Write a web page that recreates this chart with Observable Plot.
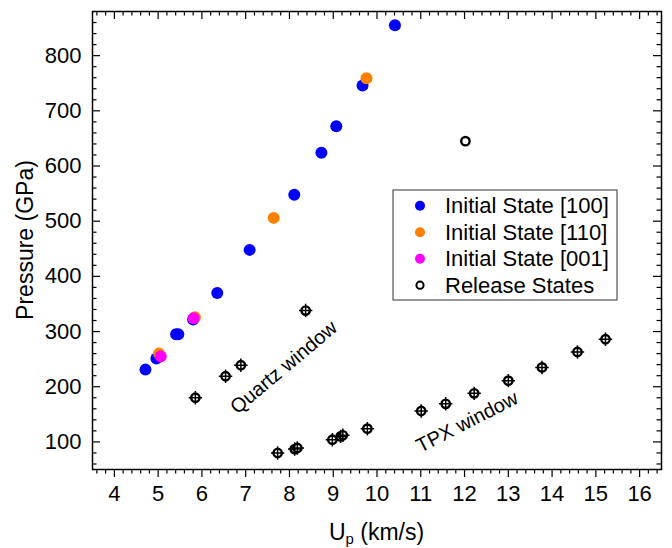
<!DOCTYPE html>
<html><head><meta charset="utf-8">
<script src="https://cdn.jsdelivr.net/npm/d3@7"></script>
<script src="https://cdn.jsdelivr.net/npm/@observablehq/plot@0.6"></script>
<style>
body{margin:0;background:#fff;}
#chart svg{display:block;}
</style></head><body><div id="chart"></div>
<script>
// ---- data ----
const up100 = [4.71, 4.96, 5.41, 5.46, 5.80, 6.35, 7.09, 8.11, 8.73, 9.07, 9.67, 10.41];
const p100  = [231, 251, 295, 295, 322, 370, 448, 548, 624, 672, 746, 855];
const up110 = [5.02, 5.84, 7.64, 9.76];
const p110  = [260, 326, 506, 759];
const up001 = [5.06, 5.81];
const p001  = [255, 324];
const upRel = [5.85, 6.54, 6.89, 8.37, 7.73, 8.12, 8.18, 8.98, 9.17, 9.22, 9.78, 11.01, 11.57, 12.22, 13.00, 13.77, 14.58, 15.22, 12.02];
const pRel  = [180, 219, 239, 338, 80, 87, 89, 104, 110, 112, 124, 156, 169, 188, 211, 235, 263, 286, 645];
const relBars = [1, 1, 1, 1, 1, 1, 1, 1, 1, 1, 1, 1, 1, 1, 1, 1, 1, 1, 0];

const seriesNames = ["Initial State [100]", "Initial State [110]", "Initial State [001]", "Release States"];
const seriesColors = ["#0000ff", "#ff7f00", "#ff00ff", "black"];

const windowLabels = ["Quartz window", "TPX window"];
const windowUp = [7.87, 12.06];
const windowP = [235, 136];
const windowAngle = [-40, -27];

const xTicks = [4, 5, 6, 7, 8, 9, 10, 11, 12, 13, 14, 15, 16];
const xTickLabels = ["4", "5", "6", "7", "8", "9", "10", "11", "12", "13", "14", "15", "16"];
const yTicks = [100, 200, 300, 400, 500, 600, 700, 800];
const yTickLabels = ["100", "200", "300", "400", "500", "600", "700", "800"];
const xDomain = [3.5, 16.5];
const yDomain = [50, 880];
const xLabelMain = "U", xLabelSub = "p", xLabelRest = " (km/s)";
const yLabel = "Pressure (GPa)";

// ---- build tables ----
const d100 = up100.map((u, i) => ({u, p: p100[i]}));
const d110 = up110.map((u, i) => ({u, p: p110[i]}));
const d001 = up001.map((u, i) => ({u, p: p001[i]}));
const dRel = upRel.map((u, i) => ({u, p: pRel[i], bars: relBars[i]}));
const dWin = windowLabels.map((t, i) => ({t, u: windowUp[i], p: windowP[i], a: windowAngle[i]}));
const xMinor = d3.range(36, 165, 2).map(v => v / 10).filter(v => !xTicks.includes(v));
const yMinor = d3.range(60, 861, 20).filter(v => !yTicks.includes(v));

const W = 672, H = 548, mL = 92, mR = 11, mT = 11, mB = 79;
const plotW = W - mL - mR, plotH = H - mT - mB;
const maj = 8, mn = 4.5;
const FONT = "'Liberation Sans', Arial, Helvetica, sans-serif";
const tk = {stroke: "black", strokeWidth: 1.2};

const chart = Plot.plot({
  width: W, height: H,
  marginLeft: mL, marginRight: mR, marginTop: mT, marginBottom: mB,
  x: {domain: xDomain, axis: null},
  y: {domain: yDomain, axis: null},
  style: {fontFamily: FONT, color: "black", background: "white", overflow: "visible"},
  marks: [
    // tick marks: bottom outward, others inward
    Plot.tickX(xTicks, {x: d => d, insetTop: plotH, insetBottom: -maj, ...tk}),
    Plot.tickX(xMinor, {x: d => d, insetTop: plotH, insetBottom: -mn, ...tk}),
    Plot.tickX(xTicks, {x: d => d, insetBottom: plotH - maj, ...tk}),
    Plot.tickX(xMinor, {x: d => d, insetBottom: plotH - mn, ...tk}),
    Plot.tickY(yTicks, {y: d => d, insetRight: plotW - maj, ...tk}),
    Plot.tickY(yMinor, {y: d => d, insetRight: plotW - mn, ...tk}),
    Plot.tickY(yTicks, {y: d => d, insetLeft: plotW - maj, ...tk}),
    Plot.tickY(yMinor, {y: d => d, insetLeft: plotW - mn, ...tk}),
    Plot.axisX({ticks: xTicks, tickFormat: (d, i) => xTickLabels[i], tickSize: 0, tickPadding: 16, fontSize: 22, label: null}),
    Plot.axisY({ticks: yTicks, tickFormat: (d, i) => yTickLabels[i], tickSize: 0, tickPadding: 11, fontSize: 22, label: null}),
    Plot.frame({stroke: "black", strokeWidth: 1.5}),
    // data
    Plot.dot(d100, {x: "u", y: "p", r: 6, fill: seriesColors[0]}),
    Plot.dot(d110, {x: "u", y: "p", r: 6, fill: seriesColors[1]}),
    Plot.dot(d001, {x: "u", y: "p", r: 6, fill: seriesColors[2]}),
    Plot.dot(dRel, {x: "u", y: "p", r: 4.2, fill: "white", stroke: "black", strokeWidth: 2.4}),
    Plot.dot(dRel.filter(d => d.bars), {x: "u", y: "p", r: 4.4, symbol: "plus", fill: "none", stroke: "black", strokeWidth: 1.5}),
    Plot.text(dWin, {x: "u", y: "p", text: "t", rotate: "a", fontSize: 20, fill: "black"})
  ]
});

const svg = d3.select(chart);
// axis titles
const xl = svg.append("text")
  .attr("x", mL + plotW / 2).attr("y", 540)
  .attr("text-anchor", "middle")
  .style("font-family", FONT).style("font-size", "23px").attr("fill", "black");
xl.append("tspan").text(xLabelMain);
xl.append("tspan").attr("dy", 4).style("font-size", "15px").text(xLabelSub);
xl.append("tspan").attr("dy", -4).text(xLabelRest);

svg.append("text")
  .attr("transform", `translate(33,${mT + plotH / 2}) rotate(-90)`)
  .attr("text-anchor", "middle")
  .style("font-family", FONT).style("font-size", "23px").attr("fill", "black")
  .text(yLabel);

// legend
const lg = svg.append("g");
lg.append("rect").attr("x", 393).attr("y", 190).attr("width", 224).attr("height", 110)
  .attr("fill", "white").attr("stroke", "#333").attr("stroke-width", 1);
seriesNames.forEach((name, i) => {
  const cy = 205.7 + i * 26.5;
  if (i < 3) {
    lg.append("circle").attr("cx", 420).attr("cy", cy).attr("r", 5).attr("fill", seriesColors[i]);
  } else {
    lg.append("circle").attr("cx", 420).attr("cy", cy).attr("r", 3.6).attr("fill", "white")
      .attr("stroke", "black").attr("stroke-width", 2);
  }
  lg.append("text").attr("x", 445).attr("y", cy + 7.5)
    .attr("text-anchor", "start")
    .style("font-family", FONT).style("font-size", "22px").attr("fill", "black").text(name);
});

document.getElementById("chart").append(chart);
</script>
</body></html>
